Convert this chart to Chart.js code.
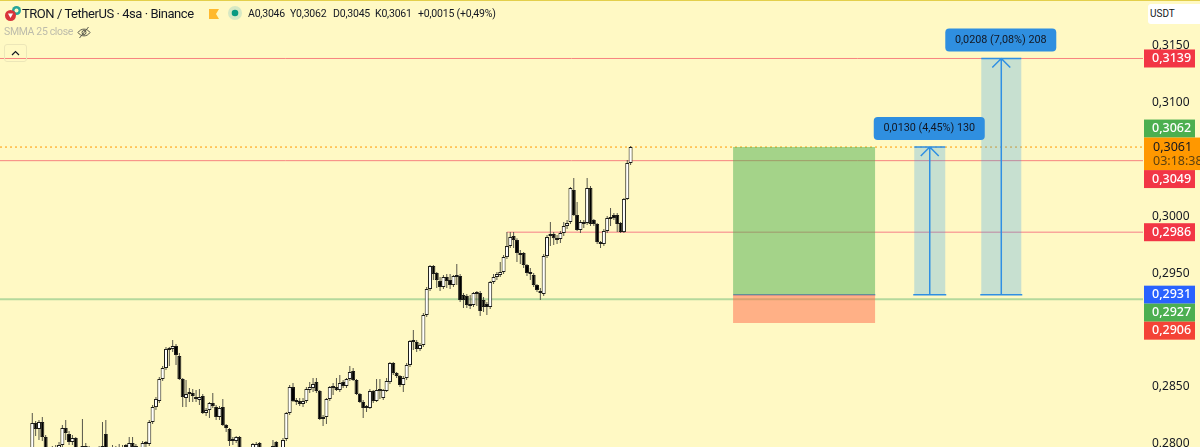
<!DOCTYPE html>
<html lang="en">
<head>
    <meta charset="UTF-8">
    <title>TRON / TetherUS</title>
    <script src="https://cdn.jsdelivr.net/npm/chart.js"></script>
    <style>
        body { margin: 0; background-color: #fff9c4; overflow: hidden; font-family: Roboto, sans-serif; }
        #wrap { position: relative; width: 1200px; height: 447px; overflow: hidden; }
        #topline { position: absolute; left: 0; top: 0; width: 1200px; height: 1px; background: #e3cf4b; }
        canvas { position: absolute; left: 0; top: 0; }
        .txt { position: absolute; white-space: nowrap; }
        #title { left: 22px; top: 5px; font-size: 13px; letter-spacing: -0.45px; line-height: 18px; color: #131722; }
        .ohlc { top: 6px; font-size: 10.5px; letter-spacing: -0.2px; line-height: 16px; color: #131722; }
        #smma { left: 4px; top: 24px; font-size: 10.5px; letter-spacing: -0.35px; line-height: 16px; color: #bdbcab; }
        #usdt { position: absolute; left: 1148px; top: 4px; width: 52px; height: 20px; background: #fff; border-radius: 3px 0 0 3px; font-size: 10px; line-height: 20px; color: #131722; text-indent: 2px; }
        #collapse { position: absolute; left: 4px; top: 44px; width: 21px; height: 16px; border: 1px solid #ece6b8; border-radius: 3px; }
        svg { position: absolute; }
    </style>
</head>
<body>
<div id="wrap">
    <canvas id="chart" width="1200" height="447"></canvas>
    <div id="topline"></div>
    <svg style="left:4px;top:5px" width="18" height="18" viewBox="0 0 18 18">
        <circle cx="12.5" cy="5.5" r="4.5" fill="#26a69a"/>
        <circle cx="12.5" cy="5.5" r="2" fill="#fff9c4"/>
        <circle cx="6.5" cy="10.5" r="5.5" fill="#d9343b"/>
        <path d="M4 8.5 L9 8.5 L6.5 13 Z" fill="#fff"/>
    </svg>
    <div class="txt" id="title">TRON / TetherUS · 4sa · Binance</div>
    <svg style="left:209px;top:9px" width="10" height="10"><path d="M0 0H10L7 5L10 10H0Z" fill="#ffb92e"/></svg>
    <svg style="left:228px;top:6px" width="14" height="14">
        <circle cx="7" cy="7" r="7" fill="#d6e8c4"/><circle cx="7" cy="7" r="3.3" fill="#089981"/>
    </svg>
    <div class="txt ohlc" style="left:248px">A0,3046</div>
    <div class="txt ohlc" style="left:290px">Y0,3062</div>
    <div class="txt ohlc" style="left:333px">D0,3045</div>
    <div class="txt ohlc" style="left:375px">K0,3061</div>
    <div class="txt ohlc" style="left:418px">+0,0015 (+0,49%)</div>
    <div class="txt" id="smma">SMMA 25 close</div>
    <svg style="left:77px;top:26px" width="14" height="13" viewBox="0 0 14 13" fill="none" stroke="#55554a" stroke-width="1">
        <path d="M1 6.5 C4 2 10 2 13 6.5 C10 11 4 11 1 6.5 Z"/><circle cx="7" cy="6.5" r="2"/><path d="M2.5 12 L11.5 1"/>
    </svg>
    <div id="collapse">
        <svg style="left:6px;top:5px" width="9" height="6" fill="none" stroke="#131722" stroke-width="1.2"><path d="M1 5 L4.5 1.5 L8 5"/></svg>
    </div>
    <div id="usdt">USDT</div>
</div>

<script>
    // price ticks on the right axis
    const yTicks = [0.2800, 0.2850, 0.2900, 0.2950, 0.3000, 0.3050, 0.3100, 0.3150];

    // 4h candles
    const opens = [
        0.27924,0.28180,0.28127,0.28188,0.28056,0.27924,0.27898,0.27924,0.27942,0.27986,
        0.28136,0.28083,0.28012,0.28047,0.27942,0.27977,0.27977,0.27959,0.27907,0.27889,
        0.27924,0.27924,0.28083,0.27942,0.27916,0.27933,0.27933,0.27942,0.27951,0.27951,
        0.28003,0.27977,0.27951,0.27933,0.27995,0.27995,0.28188,0.28320,0.28373,0.28567,
        0.28664,0.28823,0.28832,0.28858,0.28770,0.28567,0.28400,0.28435,0.28444,0.28408,
        0.28382,0.28417,0.28268,0.28294,0.28356,0.28320,0.28232,0.28320,0.28162,0.28127,
        0.28021,0.28021,0.28056,0.27942,0.27907,0.27889,0.27942,0.27942,0.28003,0.27951,
        0.27924,0.27898,0.27951,0.28012,0.27942,0.27924,0.28039,0.28268,0.28496,0.28364,
        0.28373,0.28347,0.28373,0.28470,0.28488,0.28540,0.28461,0.28215,0.28232,0.28391,
        0.28488,0.28496,0.28470,0.28540,0.28505,0.28567,0.28638,0.28558,0.28435,0.28364,
        0.28312,0.28312,0.28461,0.28373,0.28461,0.28400,0.28461,0.28540,0.28708,0.28620,
        0.28593,0.28514,0.28576,0.28691,0.28893,0.28893,0.28832,0.28867,0.29131,0.29360,
        0.29562,0.29501,0.29430,0.29378,0.29466,0.29439,0.29395,0.29466,0.29474,0.29307,
        0.29298,0.29210,0.29219,0.29316,0.29325,0.29263,0.29228,0.29201,0.29422,0.29466,
        0.29483,0.29510,0.29641,0.29738,0.29826,0.29791,0.29677,0.29677,0.29571,0.29492,
        0.29483,0.29395,0.29342,0.29316,0.29650,0.29826,0.29844,0.29808,0.29800,0.29853,
        0.29915,0.29950,0.30232,0.30012,0.29879,0.29950,0.29941,0.30249,0.29968,0.29932,
        0.29774,0.29756,0.29870,0.29976,0.30012,0.30012,0.29941,0.29861,0.30153,0.30470
    ];
    const highs = [
        0.28268,0.28197,0.28206,0.28232,0.28074,0.27942,0.27977,0.27986,0.28012,0.28162,
        0.28206,0.28109,0.28074,0.28056,0.27968,0.28215,0.28003,0.27977,0.27942,0.27942,
        0.27977,0.28188,0.28206,0.27959,0.27986,0.27977,0.27995,0.27986,0.27995,0.28056,
        0.28056,0.27995,0.27968,0.28021,0.28021,0.28206,0.28338,0.28408,0.28584,0.28682,
        0.28849,0.28849,0.28911,0.28876,0.28797,0.28576,0.28558,0.28488,0.28479,0.28470,
        0.28479,0.28435,0.28312,0.28364,0.28444,0.28338,0.28329,0.28391,0.28171,0.28136,
        0.28056,0.28065,0.28065,0.27968,0.27942,0.27959,0.28003,0.28012,0.28012,0.27968,
        0.27942,0.27968,0.28030,0.28021,0.27959,0.28047,0.28276,0.28514,0.28532,0.28400,
        0.28400,0.28400,0.28496,0.28540,0.28576,0.28576,0.28470,0.28250,0.28400,0.28505,
        0.28532,0.28576,0.28602,0.28558,0.28576,0.28682,0.28664,0.28567,0.28444,0.28382,
        0.28338,0.28479,0.28470,0.28567,0.28567,0.28479,0.28576,0.28717,0.28717,0.28629,
        0.28602,0.28593,0.28708,0.28911,0.28999,0.28911,0.28884,0.29149,0.29378,0.29571,
        0.29571,0.29510,0.29466,0.29483,0.29492,0.29492,0.29483,0.29580,0.29492,0.29325,
        0.29316,0.29307,0.29334,0.29342,0.29342,0.29289,0.29245,0.29430,0.29492,0.29510,
        0.29597,0.29659,0.29861,0.29861,0.29861,0.29808,0.29703,0.29685,0.29580,0.29545,
        0.29501,0.29404,0.29369,0.29668,0.29835,0.29950,0.29861,0.29835,0.29870,0.29950,
        0.29968,0.30258,0.30337,0.30126,0.29968,0.29968,0.30337,0.30267,0.29976,0.29941,
        0.29782,0.29888,0.30003,0.30073,0.30029,0.30029,0.29950,0.30161,0.30496,0.30620
    ];
    const lows = [
        0.27898,0.28065,0.28030,0.28021,0.27889,0.27854,0.27872,0.27889,0.27898,0.27968,
        0.28030,0.27986,0.27986,0.27889,0.27872,0.27898,0.27898,0.27872,0.27836,0.27854,
        0.27889,0.27889,0.27924,0.27872,0.27889,0.27898,0.27898,0.27916,0.27916,0.27933,
        0.27942,0.27924,0.27907,0.27916,0.27968,0.27977,0.28171,0.28294,0.28356,0.28549,
        0.28646,0.28682,0.28805,0.28691,0.28558,0.28320,0.28320,0.28364,0.28364,0.28364,
        0.28338,0.28259,0.28241,0.28224,0.28312,0.28206,0.28206,0.28153,0.28100,0.27977,
        0.27986,0.28003,0.27898,0.27854,0.27836,0.27854,0.27916,0.27924,0.27924,0.27889,
        0.27854,0.27872,0.27924,0.27916,0.27898,0.27907,0.28021,0.28250,0.28364,0.28338,
        0.28329,0.28320,0.28356,0.28444,0.28452,0.28444,0.28206,0.28153,0.28171,0.28373,
        0.28426,0.28461,0.28452,0.28488,0.28488,0.28549,0.28549,0.28426,0.28356,0.28224,
        0.28276,0.28303,0.28356,0.28364,0.28391,0.28382,0.28452,0.28523,0.28602,0.28576,
        0.28496,0.28452,0.28558,0.28673,0.28823,0.28805,0.28814,0.28849,0.29113,0.29342,
        0.29439,0.29369,0.29342,0.29360,0.29369,0.29360,0.29378,0.29395,0.29245,0.29193,
        0.29193,0.29184,0.29201,0.29210,0.29122,0.29157,0.29131,0.29184,0.29404,0.29439,
        0.29466,0.29492,0.29624,0.29721,0.29721,0.29597,0.29580,0.29545,0.29474,0.29439,
        0.29378,0.29334,0.29263,0.29298,0.29632,0.29738,0.29747,0.29756,0.29765,0.29826,
        0.29888,0.29932,0.30003,0.29870,0.29853,0.29897,0.29923,0.29915,0.29915,0.29756,
        0.29721,0.29738,0.29853,0.29915,0.29968,0.29861,0.29853,0.29853,0.30144,0.30452
    ];
    const closes = [
        0.28180,0.28127,0.28188,0.28056,0.27924,0.27889,0.27942,0.27968,0.27986,0.28136,
        0.28092,0.28012,0.28047,0.27942,0.27898,0.27942,0.27959,0.27907,0.27872,0.27924,
        0.27959,0.27977,0.27942,0.27907,0.27951,0.27951,0.27968,0.27968,0.27968,0.28003,
        0.27968,0.27951,0.27933,0.28003,0.28003,0.28188,0.28320,0.28391,0.28567,0.28664,
        0.28832,0.28841,0.28858,0.28779,0.28567,0.28408,0.28435,0.28444,0.28417,0.28391,
        0.28408,0.28268,0.28294,0.28356,0.28329,0.28232,0.28312,0.28162,0.28136,0.28021,
        0.28039,0.28056,0.27942,0.27898,0.27872,0.27942,0.27995,0.27995,0.27951,0.27916,
        0.27889,0.27951,0.27977,0.27942,0.27924,0.28030,0.28268,0.28496,0.28373,0.28382,
        0.28347,0.28373,0.28479,0.28496,0.28523,0.28461,0.28215,0.28232,0.28391,0.28496,
        0.28505,0.28470,0.28532,0.28505,0.28567,0.28629,0.28558,0.28435,0.28364,0.28312,
        0.28320,0.28461,0.28373,0.28470,0.28479,0.28470,0.28549,0.28708,0.28620,0.28593,
        0.28514,0.28576,0.28691,0.28902,0.28902,0.28832,0.28867,0.29131,0.29360,0.29562,
        0.29492,0.29439,0.29378,0.29466,0.29430,0.29395,0.29474,0.29483,0.29263,0.29263,
        0.29219,0.29228,0.29325,0.29334,0.29166,0.29201,0.29201,0.29422,0.29466,0.29492,
        0.29510,0.29641,0.29738,0.29817,0.29791,0.29677,0.29659,0.29571,0.29501,0.29510,
        0.29395,0.29351,0.29325,0.29650,0.29817,0.29844,0.29808,0.29791,0.29853,0.29915,
        0.29941,0.30249,0.30012,0.29879,0.29950,0.29932,0.30249,0.29932,0.29932,0.29774,
        0.29756,0.29870,0.29985,0.29994,0.29985,0.29932,0.29861,0.30153,0.30470,0.30610
    ];

    // drawn levels on the chart
    const lastPrice = 0.3061;
    const redLevels = [0.3139, 0.3049];
    const supportLevel = 0.2986;
    const greenLevel = 0.2927;

    // price tags on the axis, top to bottom
    const tagPrices = [0.3139, 0.3062, 0.3049, 0.2986, 0.2931, 0.2927, 0.2906];
    const tagColors = ['#f23645', '#4caf50', '#f23645', '#f23645', '#2962ff', '#4caf50', '#f44336'];
    const countdown = '03:18:38';

    // long position box and the two price range tools
    const entry = 0.2931;
    const stop = 0.2906;
    const target = 0.3061;
    const ranges = [
        { from: 0.2931, to: 0.3061, label: '0,0130 (4,45%) 130' },
        { from: 0.2931, to: 0.3139, label: '0,0208 (7,08%) 208' }
    ];

    const fmt = v => v.toFixed(4).replace('.', ',');

    // x scale: one unit is one candle, about 3.34px wide
    const xMin = -9.66;
    const xMax = 332.3;
    const boxX = 230.9;
    const rangeX = [268.5, 289.9];
    const rangeW = [31, 40];

    const idx = opens.map((_, i) => i);
    const isUp = i => closes[i] >= opens[i];
    const hline = (y, x0 = xMin, x1 = xMax) => [{ x: x0, y: y }, { x: x1, y: y }];
    const lineSet = (data, color, width, dash) => ({
        type: 'line', data: data, borderColor: color, borderWidth: width,
        borderDash: dash || [], pointRadius: 0, order: 5
    });

    const overlayPlugin = {
        id: 'overlay',
        afterDraw(chart) {
            const ctx = chart.ctx;
            const xs = chart.scales.x;
            const ys = chart.scales.y;
            const left = chart.chartArea.right + 1;

            // measure arrows and their labels
            ranges.forEach((r, n) => {
                const cx = xs.getPixelForValue(rangeX[n]);
                const hw = rangeW[n] / 2;
                const top = ys.getPixelForValue(r.to);
                const bottom = ys.getPixelForValue(r.from);
                ctx.strokeStyle = '#2f8fe3';
                ctx.lineWidth = 1.5;
                ctx.beginPath();
                ctx.moveTo(cx, top); ctx.lineTo(cx, bottom);
                ctx.moveTo(cx - hw - 1, bottom); ctx.lineTo(cx + hw + 1, bottom);
                ctx.moveTo(cx - hw, top); ctx.lineTo(cx + hw, top);
                ctx.moveTo(cx - 9, top + 9); ctx.lineTo(cx, top); ctx.lineTo(cx + 9, top + 9);
                ctx.stroke();

                const w = 111, h = 23, bx = cx - 56, by = top - 30;
                ctx.fillStyle = '#2f8fe0';
                ctx.beginPath();
                ctx.roundRect(bx, by, w, h, 4);
                ctx.fill();
                ctx.fillStyle = '#131722';
                ctx.font = '10.8px Roboto';
                ctx.textAlign = 'center';
                ctx.textBaseline = 'middle';
                ctx.fillText(r.label, bx + w / 2, by + h / 2);
            });

            // last price block, then the tags pushed clear of it and of each other
            const lastY = ys.getPixelForValue(lastPrice);
            const lastTop = lastY - 9.5;
            const lastBottom = lastY + 23;
            let prevBottom = lastBottom;
            ctx.textAlign = 'left';
            ctx.textBaseline = 'middle';
            tagPrices.forEach((p, n) => {
                const natural = ys.getPixelForValue(p);
                let top = natural - 9;
                if (p > lastPrice) {
                    top = Math.min(top, lastTop - 18);
                } else {
                    top = Math.max(top, prevBottom);
                    prevBottom = top + 18;
                }
                ctx.fillStyle = tagColors[n];
                ctx.fillRect(left, top, 51, 18);
                ctx.fillStyle = '#fff';
                ctx.font = '500 12.5px "Noto Sans"';
                ctx.fillText(fmt(p), left + 8, top + 9);
            });
            ctx.fillStyle = '#ff9800';
            ctx.fillRect(left, lastTop, 56, lastBottom - lastTop);
            ctx.fillStyle = '#131722';
            ctx.font = '12.5px "Noto Sans"';
            ctx.fillText(fmt(lastPrice), left + 9, lastY);
            ctx.fillStyle = '#5d4210';
            ctx.fillText(countdown, left + 9, lastY + 14);
        }
    };

    new Chart(document.getElementById('chart'), {
        type: 'bar',
        data: {
            datasets: [
                // the levels sit behind everything else
                ...redLevels.map(v => lineSet(hline(v), '#f7837f', 1)),
                lineSet(hline(supportLevel, 142), '#f9a79b', 1.5),
                lineSet(hline(greenLevel), '#b4d99c', 2),
                lineSet(hline(entry, 209.7, 252.2), '#5d82d6', 1.5),
                lineSet(hline(lastPrice), '#ff9800', 1, [2, 3]),
                // position box
                { data: [{ x: boxX, y: [entry, target] }], backgroundColor: 'rgba(76,175,80,0.51)', maxBarThickness: 142, order: 4 },
                { data: [{ x: boxX, y: [stop, entry] }], backgroundColor: 'rgba(255,100,70,0.49)', maxBarThickness: 142, order: 4 },
                // price range shading
                ...ranges.map((r, n) => ({
                    data: [{ x: rangeX[n], y: [r.from, r.to] }],
                    backgroundColor: 'rgba(33,150,243,0.25)', maxBarThickness: rangeW[n], order: 4
                })),
                // wicks
                {
                    data: idx.map(i => ({ x: i, y: [lows[i], highs[i]] })),
                    backgroundColor: '#57564a', maxBarThickness: 1, order: 3
                },
                // bodies
                {
                    data: idx.map(i => ({ x: i, y: [opens[i], closes[i]] })),
                    backgroundColor: idx.map(i => isUp(i) ? '#ffffff' : '#000000'),
                    borderColor: '#1c1c18', borderWidth: 1, borderSkipped: false,
                    maxBarThickness: 4, minBarLength: 2, order: 2
                }
            ]
        },
        options: {
            responsive: false,
            animation: false,
            events: [],
            layout: { padding: 0 },
            datasets: { bar: { grouped: false, categoryPercentage: 1, barPercentage: 100 } },
            plugins: { legend: { display: false }, tooltip: { enabled: false } },
            scales: {
                x: { type: 'linear', offset: false, min: xMin, max: xMax, display: false },
                y: {
                    position: 'right',
                    min: 0.279685,
                    max: 0.319051,
                    grid: { display: false, drawTicks: false },
                    border: { display: false },
                    ticks: {
                        padding: 9,
                        autoSkip: false,
                        color: '#131722',
                        font: { family: '"Noto Sans"', size: 12 },
                        callback: v => fmt(v)
                    },
                    afterBuildTicks: s => { s.ticks = yTicks.map(v => ({ value: v })); },
                    afterFit: s => { s.width = 57; s.paddingTop = 0; s.paddingBottom = 0; }
                }
            }
        },
        plugins: [overlayPlugin]
    });
</script>
</body>
</html>
